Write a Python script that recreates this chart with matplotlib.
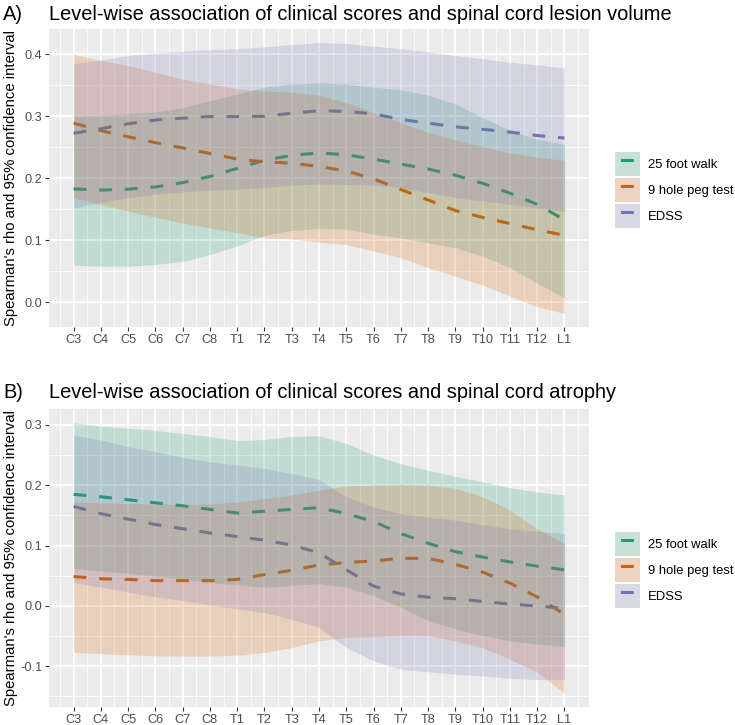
import matplotlib
matplotlib.use("Agg")
import matplotlib.pyplot as plt
from matplotlib.patches import Patch
from matplotlib.lines import Line2D
from matplotlib.ticker import FixedLocator, MultipleLocator, FuncFormatter
import numpy as np

plt.rcParams['font.family'] = ['Liberation Sans', 'DejaVu Sans']

# ---------------- data ----------------
levels = ["C3", "C4", "C5", "C6", "C7", "C8", "T1", "T2", "T3", "T4",
          "T5", "T6", "T7", "T8", "T9", "T10", "T11", "T12", "L1"]
series_names = ["25 foot walk", "9 hole peg test", "EDSS"]
colors = ["#1B9E77", "#D95F02", "#7570B3"]

title_a = "Level-wise association of clinical scores and spinal cord lesion volume"
title_b = "Level-wise association of clinical scores and spinal cord atrophy"
ylabel = "Spearman's rho and 95% confidence interval"

# Panel A: lesion volume
a_walk_rho = [0.183, 0.181, 0.1825, 0.186, 0.193, 0.203, 0.216, 0.229, 0.237, 0.241,
              0.238, 0.231, 0.223, 0.215, 0.205, 0.192, 0.176, 0.158, 0.133]
a_walk_lo = [0.060, 0.058, 0.058, 0.061, 0.066, 0.077, 0.091, 0.108, 0.116, 0.119,
             0.118, 0.110, 0.104, 0.096, 0.088, 0.0745, 0.056, 0.031, 0.007]
a_walk_hi = [0.300, 0.302, 0.304, 0.307, 0.314, 0.325, 0.336, 0.347, 0.352, 0.354,
             0.352, 0.347, 0.343, 0.334, 0.320, 0.298, 0.277, 0.263, 0.255]

a_peg_rho = [0.289, 0.277, 0.267, 0.2575, 0.249, 0.240, 0.231, 0.2265, 0.2245, 0.219,
             0.212, 0.199, 0.182, 0.165, 0.148, 0.137, 0.127, 0.117, 0.108]
a_peg_lo = [0.169, 0.158, 0.147, 0.137, 0.128, 0.120, 0.112, 0.104, 0.102, 0.097,
            0.093, 0.083, 0.072, 0.056, 0.042, 0.028, 0.010, -0.007, -0.018]
a_peg_hi = [0.400, 0.390, 0.382, 0.371, 0.360, 0.352, 0.344, 0.341, 0.339, 0.334,
            0.322, 0.306, 0.290, 0.274, 0.262, 0.251, 0.241, 0.234, 0.229]

a_edss_rho = [0.2726, 0.280, 0.288, 0.294, 0.297, 0.2996, 0.2996, 0.300, 0.305, 0.309,
              0.308, 0.304, 0.295, 0.289, 0.283, 0.279, 0.2745, 0.269, 0.265]
a_edss_lo = [0.152, 0.161, 0.169, 0.174, 0.178, 0.181, 0.1825, 0.185, 0.189, 0.191,
             0.190, 0.189, 0.185, 0.177, 0.169, 0.1636, 0.158, 0.152, 0.147]
a_edss_hi = [0.385, 0.391, 0.398, 0.402, 0.405, 0.4075, 0.409, 0.412, 0.416, 0.419,
             0.4175, 0.413, 0.409, 0.404, 0.398, 0.393, 0.387, 0.383, 0.378]

# Panel B: atrophy
b_walk_rho = [0.185, 0.181, 0.176, 0.171, 0.166, 0.160, 0.154, 0.157, 0.160, 0.163,
              0.153, 0.140, 0.120, 0.104, 0.090, 0.081, 0.073, 0.066, 0.060]
b_walk_lo = [0.062, 0.058, 0.054, 0.050, 0.045, 0.039, 0.035, 0.031, 0.034, 0.037,
             0.031, 0.017, -0.002, -0.024, -0.038, -0.049, -0.058, -0.063, -0.067]
b_walk_hi = [0.304, 0.298, 0.2945, 0.291, 0.286, 0.281, 0.274, 0.276, 0.281, 0.282,
             0.2695, 0.250, 0.236, 0.225, 0.215, 0.206, 0.196, 0.189, 0.184]

b_peg_rho = [0.0488, 0.045, 0.044, 0.042, 0.042, 0.042, 0.044, 0.052, 0.059, 0.068,
             0.072, 0.0745, 0.079, 0.079, 0.069, 0.056, 0.038, 0.015, -0.014]
b_peg_lo = [-0.077, -0.079, -0.081, -0.0825, -0.083, -0.083, -0.0815, -0.077, -0.069, -0.058,
            -0.052, -0.051, -0.049, -0.049, -0.058, -0.069, -0.088, -0.110, -0.145]
b_peg_hi = [0.1725, 0.171, 0.170, 0.169, 0.168, 0.169, 0.1725, 0.178, 0.184, 0.192,
            0.199, 0.200, 0.201, 0.200, 0.195, 0.181, 0.159, 0.128, 0.103]

b_edss_rho = [0.165, 0.153, 0.144, 0.135, 0.128, 0.121, 0.115, 0.109, 0.101, 0.088,
              0.060, 0.033, 0.020, 0.0145, 0.012, 0.0075, 0.0033, 0.000, -0.004]
b_edss_lo = [0.039, 0.031, 0.023, 0.0155, 0.009, 0.002, -0.005, -0.011, -0.022, -0.0355,
             -0.069, -0.091, -0.105, -0.109, -0.113, -0.116, -0.120, -0.122, -0.122]
b_edss_hi = [0.283, 0.275, 0.264, 0.256, 0.246, 0.239, 0.2335, 0.228, 0.2196, 0.2096,
             0.181, 0.164, 0.153, 0.1475, 0.142, 0.135, 0.128, 0.124, 0.120]

# ---------------- figure ----------------
W, H = 735, 725
fig = plt.figure(figsize=(W / 100, H / 100), dpi=100)


def px_axes(l, t, r, b):
    return fig.add_axes([l / W, 1 - b / H, (r - l) / W, (b - t) / H])


LW = 2.2
DASH = (4.2, 4.2)


def fmt(v, p):
    s = f"{v:.1f}"
    return "0.0" if s in ("-0.0", "0.0") else s


def draw_panel(ax, rhos, los, his):
    x = np.arange(len(levels))
    for i in range(3):
        ax.plot(x, rhos[i], color=colors[i], lw=LW, ls=(0, DASH), zorder=2,
                dash_capstyle='butt', solid_capstyle='butt')
    for i in range(3):
        ax.fill_between(x, los[i], his[i], color=colors[i], alpha=0.2, lw=0, zorder=3)
    ax.set_facecolor('#EBEBEB')
    for s in ax.spines.values():
        s.set_visible(False)
    n = len(levels)
    ax.set_xlim(-0.05 * (n - 1), (n - 1) * 1.05)
    allv = np.concatenate([np.array(v) for v in los + his])
    lo, hi = allv.min(), allv.max()
    pad = 0.05 * (hi - lo)
    ax.set_ylim(lo - pad, hi + pad)
    ax.xaxis.set_major_locator(FixedLocator(x))
    ax.set_xticklabels(levels)
    ax.xaxis.set_minor_locator(FixedLocator(np.arange(-0.5, n, 1.0)))
    ax.yaxis.set_major_locator(MultipleLocator(0.1))
    ax.yaxis.set_minor_locator(MultipleLocator(0.05))
    ax.yaxis.set_major_formatter(FuncFormatter(fmt))
    ax.grid(which='major', color='white', lw=1.3, zorder=0)
    ax.grid(which='minor', color='white', lw=0.6, zorder=0)
    ax.set_axisbelow(True)
    ax.tick_params(which='major', length=3.0, width=0.8, color='#333333',
                   labelcolor='#4D4D4D', labelsize=9.2, pad=2)
    ax.tick_params(which='minor', length=0)
    ax.set_ylabel(ylabel, fontsize=10.7, color='black')
    ax.yaxis.set_label_coords((18 - 49) / 540, 0.5)

    bg = Patch(facecolor='#F2F2F2', edgecolor='none')
    handles = []
    for i in range(3):
        f = Patch(facecolor=colors[i], alpha=0.2, edgecolor='none')
        ln = Line2D([], [], color=colors[i], lw=LW, ls=(6.6, DASH), dash_capstyle='butt')
        handles.append((bg, f, ln))
    fs = 9.4
    ax.legend(handles, series_names, loc='center left',
              bbox_to_anchor=((615 - 49) / 540, 0.46), frameon=False,
              borderaxespad=0, borderpad=0, fontsize=fs,
              handlelength=1.92, handleheight=2.45, handletextpad=0.62,
              labelspacing=0.13)


axA = px_axes(49, 29, 589, 327)
axB = px_axes(49, 409, 589, 707)

draw_panel(axA, [a_walk_rho, a_peg_rho, a_edss_rho],
           [a_walk_lo, a_peg_lo, a_edss_lo], [a_walk_hi, a_peg_hi, a_edss_hi])
draw_panel(axB, [b_walk_rho, b_peg_rho, b_edss_rho],
           [b_walk_lo, b_peg_lo, b_edss_lo], [b_walk_hi, b_peg_hi, b_edss_hi])

TFS = 14.4
fig.text(3 / W, 1 - 20 / H, "A)", fontsize=TFS, va='baseline', ha='left')
fig.text(49 / W, 1 - 20 / H, title_a, fontsize=TFS, va='baseline', ha='left')
fig.text(3 / W, 1 - 398 / H, "B)", fontsize=TFS, va='baseline', ha='left')
fig.text(49 / W, 1 - 398 / H, title_b, fontsize=TFS, va='baseline', ha='left')

fig.savefig("out.png", dpi=100, facecolor='white')
